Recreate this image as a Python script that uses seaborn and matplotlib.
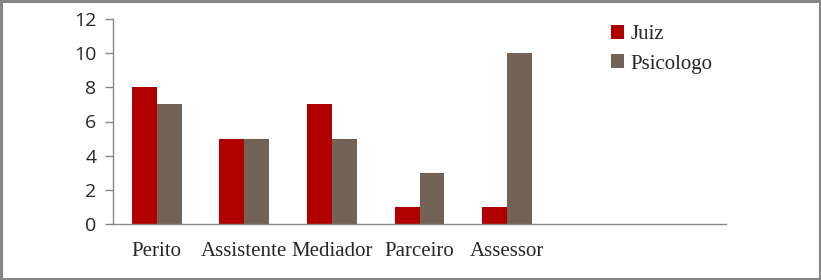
import matplotlib
matplotlib.use("Agg")
import matplotlib.pyplot as plt
import seaborn as sns
import pandas as pd
from matplotlib.patches import Rectangle

categories = ["Perito", "Assistente", "Mediador", "Parceiro", "Assessor"]
empty_slots = ["  ", "   "]
juiz = [8, 5, 7, 1, 1]
psicologo = [7, 5, 5, 3, 10]
series_names = ["Juiz", "Psicologo"]
y_ticks = [0, 2, 4, 6, 8, 10, 12]

df = pd.DataFrame({
    "cat": categories * 2,
    "val": juiz + psicologo,
    "serie": [series_names[0]] * len(categories) + [series_names[1]] * len(categories),
})
order = categories + empty_slots

sns.set_style("white")
fig = plt.figure(figsize=(8.21, 2.80), dpi=100)
ax = fig.add_axes([113/821, 56/280, 613/821, 205/280])

sns.barplot(data=df, x="cat", y="val", hue="serie", order=order,
            palette=["#B00000", "#736357"], width=0.57, dodge=True,
            saturation=1, errorbar=None, ax=ax, legend=True, linewidth=0,
            edgecolor="none")

ax.set_xlim(-0.5, len(order) - 0.5)
ax.set_ylim(0, 12)
ax.set_yticks(y_ticks)
ax.set_yticklabels([str(t) for t in y_ticks], fontfamily="Open Sans", fontsize=14)
ax.set_xlabel("")
ax.set_ylabel("")

ax.set_xticks(range(len(order)))
ax.set_xticklabels(order, fontfamily="Liberation Serif", fontsize=15)
ax.set_xticks([i - 0.5 for i in range(len(order) + 1)], minor=True)
ax.tick_params(axis="x", which="major", length=0, pad=13)
ax.tick_params(axis="x", which="minor", length=6, width=1, color="#868686", direction="out")
ax.tick_params(axis="y", length=6, width=1, color="#868686", direction="out", left=True, pad=6)

for s in ["top", "right"]:
    ax.spines[s].set_visible(False)
for s in ["left", "bottom"]:
    ax.spines[s].set_color("#868686")
    ax.spines[s].set_linewidth(1)

leg = ax.get_legend()
if leg is not None:
    leg.remove()
handles, labels = ax.get_legend_handles_labels()
fig.legend(handles, labels, loc="upper left", bbox_to_anchor=(592/821, 1 - 6/280),
           frameon=False, handlelength=0.65, handleheight=0.65, handletextpad=0.3,
           labelspacing=0.5, prop={"family": "Liberation Serif", "size": 15})

fig.patches.append(Rectangle((0.0015, 0.004), 0.997, 0.991, transform=fig.transFigure,
                             fill=False, edgecolor="#868686", linewidth=2.2))

fig.savefig("out.png", dpi=100)
